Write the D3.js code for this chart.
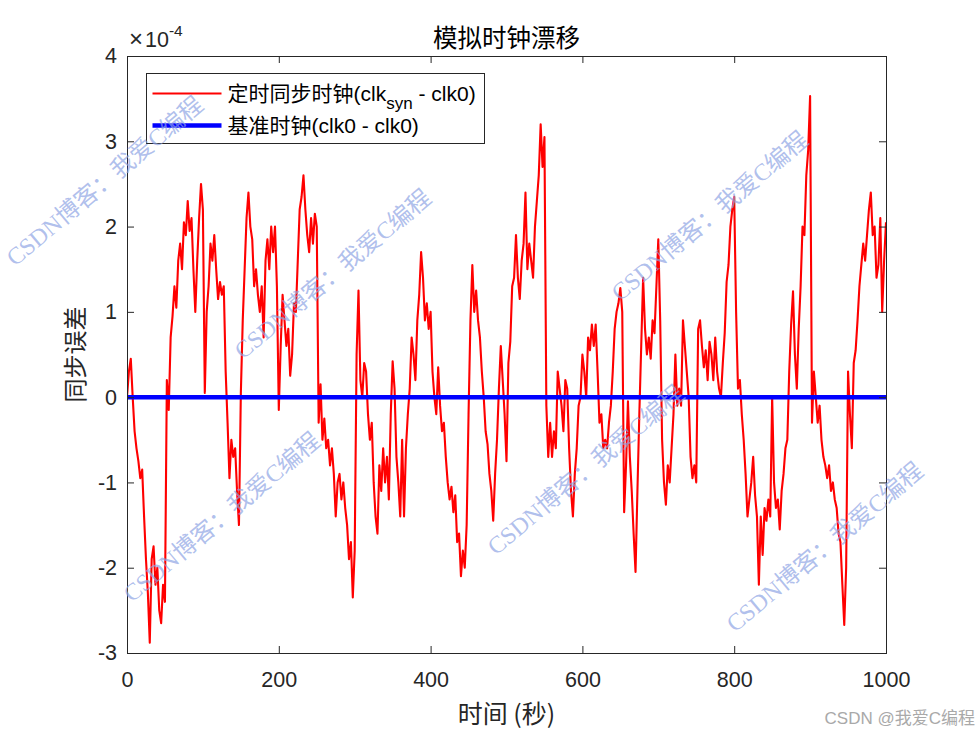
<!DOCTYPE html>
<html>
<head>
<meta charset="utf-8">
<script src="https://cdn.jsdelivr.net/npm/d3@7"></script>
<style>
  body { margin: 0; background: #fff; }
</style>
</head>
<body>
<div id="chart"></div>
<script>
// sampled every 2.5 s, values in units of 1e-4
const timeStep = 2.5;
const syncError = [
  0.0, 0.3, 0.45, 0.0, -0.4, -0.6, -0.75, -0.95, -0.85, -1.4, -1.9, -2.3, -2.88, -1.9, -1.75, -2.2, -2.0, -2.5, -2.65, -2.2,
  -2.4, 0.2, -0.15, 0.7, 0.95, 1.3, 1.05, 1.6, 1.8, 1.5, 2.05, 1.9, 2.3, 1.95, 2.1, 1.5, 1.0, 1.6, 2.1, 2.5,
  2.2, 0.05, 1.0, 1.3, 1.8, 1.6, 1.9, 1.5, 1.15, 1.35, 1.2, 1.3, 0.3, -0.3, -0.95, -0.5, -0.7, -0.6, -1.1, -1.5,
  0.05, 0.9, 1.5, 2.1, 2.4, 2.0, 1.85, 1.3, 1.5, 1.2, 1.0, 1.3, 0.7, 1.6, 1.85, 1.5, 2.0, 1.7, 2.0, 1.3,
  -0.15, 0.6, 1.2, 0.9, 0.6, 0.8, 0.25, 0.5, 1.1, 1.0, 1.6, 2.2, 2.35, 2.6, 2.2, 1.9, 1.7, 2.1, 1.8, 2.15,
  2.0, -0.3, 0.15, -0.5, -0.25, -0.6, -0.5, -0.8, -0.6, -0.9, -1.4, -1.0, -0.9, -1.2, -1.0, -1.3, -1.5, -1.9, -1.7, -2.35,
  -1.8, 0.5, 1.25, 0.2, 0.0, 0.4, 0.3, -0.2, -0.5, -0.3, -1.0, -1.4, -1.6, -0.8, -1.1, -0.6, -1.0, -0.7, -1.2, -0.2,
  0.42, 0.1, -0.7, -1.0, -1.4, -0.5, -1.4, -0.6, -0.2, 0.1, 0.7, 0.5, 0.2, 0.9, 1.2, 1.7, 1.4, 0.9, 1.1, 0.8,
  1.0, 0.3, 0.0, -0.2, 0.35, -0.1, -0.4, -0.3, -0.7, -1.0, -1.2, -1.05, -1.35, -1.15, -1.7, -1.6, -2.1, -1.8, -2.0, -1.5,
  -0.2, 0.9, 1.55, 1.0, 1.25, 0.9, 0.7, 0.3, 0.0, -0.4, -0.55, -0.9, -1.1, -1.45, -0.9, -0.5, 0.1, 0.6, 0.2, -0.2,
  -0.75, 0.4, 0.65, 1.3, 1.4, 1.9, 1.4, 1.15, 1.6, 1.8, 2.4, 1.5, 1.8, 1.6, 1.4, 2.0, 2.3, 2.6, 3.2, 2.7,
  3.05, -0.1, -0.7, -0.3, -0.7, -0.4, -0.6, 0.3, 0.1, -0.1, -0.4, 0.2, 0.1, -0.6, -1.1, -1.4, -0.9, -0.6, -0.1, 0.0,
  0.5, 0.3, 0.0, 0.7, 0.55, 0.85, 0.6, 0.85, 0.3, -0.3, -0.2, -0.6, -0.5, -0.6, -0.3, -0.1, 0.3, 0.8, 1.0, 1.1,
  1.28, 1.0, -1.35, -0.8, -0.05, -0.7, -1.1, -1.6, -2.05, -1.1, -0.2, 0.6, 1.4, 0.8, 0.5, 0.7, 0.45, 0.9, 0.75, 1.3,
  1.85, 0.9, -0.5, -1.0, -1.26, -0.8, -1.0, -0.6, -0.2, 0.5, -0.1, 0.1, -0.1, 0.9, 0.6, 0.3, 0.0, -0.7, -0.95, -0.8,
  -1.0, 0.8, 0.9, 0.6, 0.35, 0.55, 0.2, 0.65, 0.5, 0.2, 0.7, 0.3, 0.1, 0.0, 0.4, 0.75, 1.35, 1.55, 2.0, 2.2,
  2.35, 1.0, 0.1, 0.2, -0.2, -0.5, -0.9, -1.4, -1.2, -1.0, -0.7, -1.15, -1.4, -2.2, -1.4, -1.85, -1.3, -1.45, -1.2, -1.4,
  0.0, -1.0, -1.3, -1.2, -1.55, -1.1, -0.9, -0.6, -0.5, 0.3, 0.85, 1.24, 0.5, 0.1, 0.8, 1.3, 2.0, 1.9, 2.6, 2.9,
  3.53, -0.3, 0.3, 0.0, -0.3, -0.1, -0.5, -0.7, -0.8, -0.95, -0.8, -1.1, -1.0, -1.2, -1.3, -1.6, -1.7, -2.2, -2.67, -2.0,
  0.3, -0.2, -0.6, 0.4, 0.55, 0.9, 1.3, 1.55, 1.8, 1.6, 1.9, 2.2, 2.4, 1.9, 2.0, 1.4, 1.55, 2.1, 1.0, 1.6,
  2.05
];
const refTimes = [0, 1000];
const refError = [0, 0];

const xTicks = [0, 200, 400, 600, 800, 1000];
const yTicks = [-3, -2, -1, 0, 1, 2, 3, 4];

const titleText = "模拟时钟漂移";
const xLabel = "时间 (秒)";
const yLabel = "同步误差";
const legendNames = ["定时同步时钟(clk", "基准时钟(clk0 - clk0)"];
const watermarkText = "CSDN博客：我爱C编程";
const footerText = "CSDN @我爱C编程";

const width = 980, height = 735;
const margin = { top: 56, right: 94, bottom: 82, left: 127 };
const axisColor = "#262626";
const latin = "'Liberation Sans', Arial, 'Noto Sans CJK SC', sans-serif";
const cjk = "'Noto Sans CJK SC', sans-serif";

const svg = d3.select("#chart").append("svg")
  .attr("width", width)
  .attr("height", height)
  .attr("viewBox", [0, 0, width, height]);

svg.append("rect").attr("width", width).attr("height", height).attr("fill", "#fff");

const x = d3.scaleLinear().domain([0, 1000]).range([margin.left, width - margin.right]);
const y = d3.scaleLinear().domain([-3, 4]).range([height - margin.bottom, margin.top]);

svg.append("clipPath").attr("id", "plot-clip")
  .append("rect")
  .attr("x", x(0)).attr("y", y(4))
  .attr("width", x(1000) - x(0)).attr("height", y(-3) - y(4));

//lines
const plot = svg.append("g").attr("clip-path", "url(#plot-clip)");

const redLine = d3.line()
  .x((d, i) => x(i * timeStep))
  .y(d => y(d));

plot.append("path")
  .datum(syncError)
  .attr("d", redLine)
  .attr("fill", "none")
  .attr("stroke", "#ff0000")
  .attr("stroke-width", 2.1)
  .attr("stroke-linejoin", "round");

const blueLine = d3.line()
  .x((d, i) => x(refTimes[i]))
  .y(d => y(d));

plot.append("path")
  .datum(refError)
  .attr("d", blueLine)
  .attr("fill", "none")
  .attr("stroke", "#0000ff")
  .attr("stroke-width", 4.5);

//axes, ticks pointing inwards on all four sides
function styleAxis(g) {
  g.select(".domain").attr("stroke", axisColor).attr("stroke-width", 1);
  g.selectAll(".tick line").attr("stroke", axisColor);
  g.selectAll(".tick text")
    .attr("fill", "#262626")
    .style("font-family", latin)
    .style("font-size", "21.5px");
}

const plainNum = d => String(d);

svg.append("g")
  .attr("transform", `translate(0,${y(-3)})`)
  .call(d3.axisBottom(x).tickValues(xTicks).tickFormat(plainNum).tickSize(-7).tickSizeOuter(0).tickPadding(19))
  .call(styleAxis);

svg.append("g")
  .attr("transform", `translate(0,${y(4)})`)
  .call(d3.axisTop(x).tickValues(xTicks).tickSize(-7).tickSizeOuter(0).tickFormat(""))
  .call(styleAxis);

svg.append("g")
  .attr("transform", `translate(${x(0)},0)`)
  .call(d3.axisLeft(y).tickValues(yTicks).tickFormat(plainNum).tickSize(-7).tickSizeOuter(0).tickPadding(10))
  .call(styleAxis);

svg.append("g")
  .attr("transform", `translate(${x(1000)},0)`)
  .call(d3.axisRight(y).tickValues(yTicks).tickSize(-7).tickSizeOuter(0).tickFormat(""))
  .call(styleAxis);

svg.selectAll(".domain").attr("shape-rendering", "crispEdges");

// exponent label
const expo = svg.append("text")
  .attr("x", x(0) + 2)
  .attr("y", 47)
  .attr("fill", "#262626")
  .style("font-family", latin)
  .style("font-size", "21.5px");
expo.append("tspan").style("font-size", "24px").text("×");
expo.append("tspan").attr("dx", 2).text("10");
expo.append("tspan").attr("dy", -11).style("font-size", "15.5px").text("-4");

//title and axis labels
svg.append("text")
  .attr("x", (x(0) + x(1000)) / 2)
  .attr("y", 47)
  .attr("text-anchor", "middle")
  .attr("fill", "#000")
  .style("font-family", cjk)
  .style("font-size", "24.5px")
  .text(titleText);

svg.append("text")
  .attr("x", (x(0) + x(1000)) / 2)
  .attr("y", 723)
  .attr("text-anchor", "middle")
  .attr("fill", "#262626")
  .style("font-family", cjk)
  .style("font-size", "25px")
  .text(xLabel);

svg.append("text")
  .attr("transform", `translate(84,${y(0.5)}) rotate(-90)`)
  .attr("text-anchor", "middle")
  .attr("fill", "#262626")
  .style("font-family", cjk)
  .style("font-size", "24px")
  .text(yLabel);

// legend
const legend = svg.append("g").attr("transform", "translate(146.5,73.5)");
legend.append("rect")
  .attr("width", 338)
  .attr("height", 70)
  .attr("fill", "#fff")
  .attr("stroke", axisColor)
  .attr("stroke-width", 1);

legend.append("line")
  .attr("x1", 6).attr("x2", 75).attr("y1", 20).attr("y2", 20)
  .attr("stroke", "#ff0000").attr("stroke-width", 2.1);
legend.append("line")
  .attr("x1", 6).attr("x2", 75).attr("y1", 52).attr("y2", 52)
  .attr("stroke", "#0000ff").attr("stroke-width", 4.5);

const t1 = legend.append("text")
  .attr("x", 81).attr("y", 27)
  .attr("fill", "#000")
  .style("font-family", latin)
  .style("font-size", "21px");
t1.append("tspan").text(legendNames[0]);
t1.append("tspan").attr("dy", 8).style("font-size", "17px").text("syn");
t1.append("tspan").attr("dy", -8).text(" - clk0)");

legend.append("text")
  .attr("x", 81).attr("y", 59)
  .attr("fill", "#000")
  .style("font-family", latin)
  .style("font-size", "21px")
  .text(legendNames[1]);

// watermarks on top of everything
const markSpots = [[15, 267], [243, 360], [132, 603], [620, 302], [496, 556], [735, 633]];
svg.append("g").selectAll("text")
  .data(markSpots)
  .join("text")
  .attr("transform", d => `translate(${d[0]},${d[1]}) rotate(-40)`)
  .attr("fill", "#8ea4e4")
  .attr("fill-opacity", 0.7)
  .style("font-family", "'Liberation Serif', 'Noto Sans CJK SC', serif")
  .style("font-size", "24px")
  .text(watermarkText);

svg.append("text")
  .attr("x", 975)
  .attr("y", 724)
  .attr("text-anchor", "end")
  .attr("fill", "#a9a9a9")
  .style("font-family", latin)
  .style("font-size", "17px")
  .text(footerText);
</script>
</body>
</html>
